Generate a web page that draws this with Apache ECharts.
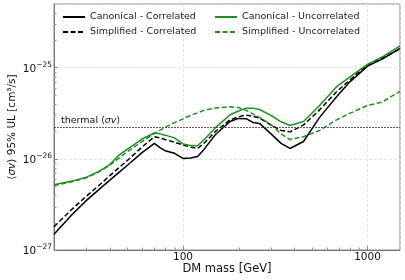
<!DOCTYPE html>
<html><head><meta charset="utf-8">
<script src="https://cdn.jsdelivr.net/npm/echarts@6/dist/echarts.min.js"></script>
<style>html,body{margin:0;padding:0;background:#fff}#c{width:405px;height:280px}</style>
</head><body><div id="c"></div>
<script>
// DM mass [GeV]
const mass = [20, 25, 30, 35, 40, 45, 50, 60, 70, 75, 80, 90, 100, 110, 120, 130, 150, 180, 200, 220, 240, 260, 300, 340, 380, 450, 550, 680, 800, 1000, 1200, 1500];
// <sigma v> 95% UL [cm^3/s]
const canonicalCorrelated = [1.49e-27, 2.44e-27, 3.5e-27, 4.6e-27, 5.8e-27, 7.1e-27, 8.5e-27, 1.17e-26, 1.48e-26, 1.33e-26, 1.23e-26, 1.15e-26, 1.01e-26, 1.02e-26, 1.06e-26, 1.27e-26, 1.85e-26, 2.57e-26, 2.78e-26, 2.76e-26, 2.5e-26, 2.45e-26, 1.88e-26, 1.48e-26, 1.3e-26, 1.55e-26, 2.85e-26, 4.8e-26, 6.95e-26, 1.04e-25, 1.24e-25, 1.63e-25];
const simplifiedCorrelated = [1.8e-27, 2.8e-27, 3.9e-27, 5.1e-27, 6.5e-27, 8.0e-27, 9.6e-27, 1.35e-26, 1.75e-26, 1.7e-26, 1.63e-26, 1.52e-26, 1.42e-26, 1.35e-26, 1.3e-26, 1.48e-26, 2.0e-26, 2.68e-26, 2.9e-26, 3.02e-26, 2.92e-26, 2.8e-26, 2.35e-26, 2.05e-26, 1.98e-26, 2.35e-26, 3.45e-26, 5.45e-26, 7.3e-26, 1.08e-25, 1.27e-25, 1.6e-25];
const canonicalUncorrelated = [5.2e-27, 5.7e-27, 6.3e-27, 7.3e-27, 8.6e-27, 1.1e-26, 1.28e-26, 1.65e-26, 1.92e-26, 1.88e-26, 1.82e-26, 1.7e-26, 1.46e-26, 1.4e-26, 1.39e-26, 1.62e-26, 2.2e-26, 3.05e-26, 3.35e-26, 3.6e-26, 3.58e-26, 3.48e-26, 3.0e-26, 2.55e-26, 2.32e-26, 2.57e-26, 3.85e-26, 6.2e-26, 7.9e-26, 1.09e-25, 1.31e-25, 1.74e-25];
const simplifiedUncorrelated = [5.1e-27, 5.6e-27, 6.2e-27, 7.2e-27, 8.5e-27, 1.02e-26, 1.2e-26, 1.55e-26, 1.9e-26, 2.05e-26, 2.22e-26, 2.5e-26, 2.75e-26, 3.0e-26, 3.2e-26, 3.4e-26, 3.62e-26, 3.72e-26, 3.65e-26, 3.4e-26, 3.1e-26, 2.85e-26, 2.38e-26, 1.88e-26, 1.63e-26, 1.75e-26, 2.05e-26, 2.68e-26, 3.15e-26, 3.85e-26, 4.2e-26, 5.5e-26];
const thermalXsec = 2.2e-26;
const seriesNames = ['Canonical - Correlated', 'Simplified - Correlated', 'Canonical - Uncorrelated', 'Simplified - Uncorrelated'];
const xRange = [20, 1500];
const yRange = [1e-27, 5e-25];
const xMinorTicks = [30, 40, 50, 60, 70, 80, 90, 200, 300, 400, 500, 600, 700, 800, 900];
const yMinorTicks = [2e-27, 3e-27, 4e-27, 5e-27, 6e-27, 7e-27, 8e-27, 9e-27, 2e-26, 3e-26, 4e-26, 5e-26, 6e-26, 7e-26, 8e-26, 9e-26, 2e-25, 3e-25, 4e-25];

// plot in units of 1e-27 to avoid floating rounding in the log scale
const UNIT = 1e-27;
const toPairs = (arr) => mass.map((m, i) => [m, arr[i] / UNIT]);
const FONT = 'DejaVu Sans';
const GREEN = '#1f8f1f';

function isPow10(v) { const l = Math.log10(v); return Math.abs(l - Math.round(l)) < 1e-6; }

const chart = echarts.init(document.getElementById('c'), null, {renderer: 'canvas'});

function lineSeries(name, data, color, dashed, extra) {
  return Object.assign({
    name: name, type: 'line', data: toPairs(data), symbol: 'none', showSymbol: false,
    lineStyle: {color: color, width: 1.5, type: dashed ? [5, 2.5] : 'solid'},
    itemStyle: {color: color}, z: 3, animation: false
  }, extra || {});
}

const legendCommon = {orient: 'vertical', top: 10, padding: 0, itemWidth: 22, itemHeight: 14, itemGap: 1,
  itemStyle: {opacity: 0, borderWidth: 0},
  textStyle: {fontSize: 9.5, fontFamily: FONT, color: '#222', lineHeight: 14}};

const option = {
  animation: false,
  backgroundColor: '#fff',
  grid: {left: 54, right: 5, top: 4, bottom: 30, show: true, borderColor: '#888', borderWidth: 1, outerBoundsMode: 'none', containLabel: false},
  legend: [
    Object.assign({data: [seriesNames[0], seriesNames[1]], left: 62}, legendCommon),
    Object.assign({data: [seriesNames[2], seriesNames[3]], left: 214}, legendCommon)
  ],
  xAxis: {
    type: 'log', logBase: 10, min: xRange[0], max: xRange[1],
    name: 'DM mass [GeV]', nameLocation: 'middle', nameGap: 13, nameMoveOverlap: false,
    nameTextStyle: {fontSize: 11.5, fontFamily: FONT, color: '#111'},
    axisLine: {show: true, lineStyle: {color: '#777', width: 1}},
    axisTick: {show: true, inside: true, length: 4, lineStyle: {color: '#888'}},
    axisLabel: {fontSize: 10.5, fontFamily: FONT, color: '#111', margin: 2, showMinLabel: false, showMaxLabel: false,
      formatter: (v) => isPow10(v) ? String(Math.round(v)) : ''},
    splitLine: {show: true, lineStyle: {color: '#ddd', type: [3, 2], width: 0.8}},
    minorTick: {show: false}
  },
  yAxis: {
    type: 'log', logBase: 10, min: yRange[0] / UNIT, max: yRange[1] / UNIT,
    name: '{n|\u27e8}{i|σv}{n|\u27e9 95% UL [cm³/s]}', nameLocation: 'middle', nameGap: 36, nameRotate: 90, nameMoveOverlap: false,
    nameTextStyle: {fontFamily: FONT, color: '#111', rich: {
      n: {fontSize: 10.5, fontFamily: FONT, color: '#111'},
      i: {fontSize: 10.5, fontFamily: FONT, fontStyle: 'italic', color: '#111'}}},
    axisLine: {show: true, lineStyle: {color: '#777', width: 1}},
    axisTick: {show: true, inside: true, length: 4, lineStyle: {color: '#888'}},
    axisLabel: {margin: 2, showMinLabel: true, showMaxLabel: false,
      formatter: (v) => { if (!isPow10(v)) return ''; const p = Math.round(Math.log10(v * UNIT)); return '{b|10}{s|\u2212' + Math.abs(p) + '}'; },
      rich: {
        b: {fontSize: 10.5, fontFamily: FONT, color: '#111', padding: [3, 0, 0, 0]},
        s: {fontSize: 7.5, fontFamily: FONT, color: '#111', verticalAlign: 'top'}
      }},
    splitLine: {show: true, lineStyle: {color: '#ddd', type: [3, 2], width: 0.8}},
    minorTick: {show: false}
  },
  series: [
    lineSeries(seriesNames[0], canonicalCorrelated, '#000', false, {
      markLine: {
        silent: true, symbol: ['none', 'none'], animation: false,
        lineStyle: {color: '#333', type: [2, 1], width: 0.8},
        label: {show: true, position: 'insideStartTop', distance: [7, 2],
          formatter: '{a|thermal \u27e8}{i|σv}{a|\u27e9}',
          rich: {a: {fontSize: 9.5, fontFamily: FONT, color: '#111'}, i: {fontSize: 9.5, fontFamily: FONT, fontStyle: 'italic', color: '#111'}}},
        data: [{yAxis: thermalXsec / UNIT}]
      }
    }),
    lineSeries(seriesNames[1], simplifiedCorrelated, '#000', true),
    lineSeries(seriesNames[2], canonicalUncorrelated, GREEN, false),
    lineSeries(seriesNames[3], simplifiedUncorrelated, GREEN, true),
    {
      type: 'custom', silent: true, animation: false, z: 4,
      data: xMinorTicks.map(v => [v, yRange[0] / UNIT]),
      renderItem: (params, api) => {
        const p = api.coord([api.value(0), api.value(1)]);
        const x = Math.round(p[0]) + 0.5;
        return {type: 'line', shape: {x1: x, y1: p[1], x2: x, y2: p[1] - 2.5}, style: {stroke: '#999', lineWidth: 1}};
      }
    },
    {
      type: 'custom', silent: true, animation: false, z: 4,
      data: yMinorTicks.map(v => [xRange[0], v / UNIT]),
      renderItem: (params, api) => {
        const p = api.coord([api.value(0), api.value(1)]);
        const y = Math.round(p[1]) + 0.5;
        return {type: 'line', shape: {x1: p[0], y1: y, x2: p[0] + 2.5, y2: y}, style: {stroke: '#999', lineWidth: 1}};
      }
    }
  ]
};
chart.setOption(option);
</script>
</body></html>
